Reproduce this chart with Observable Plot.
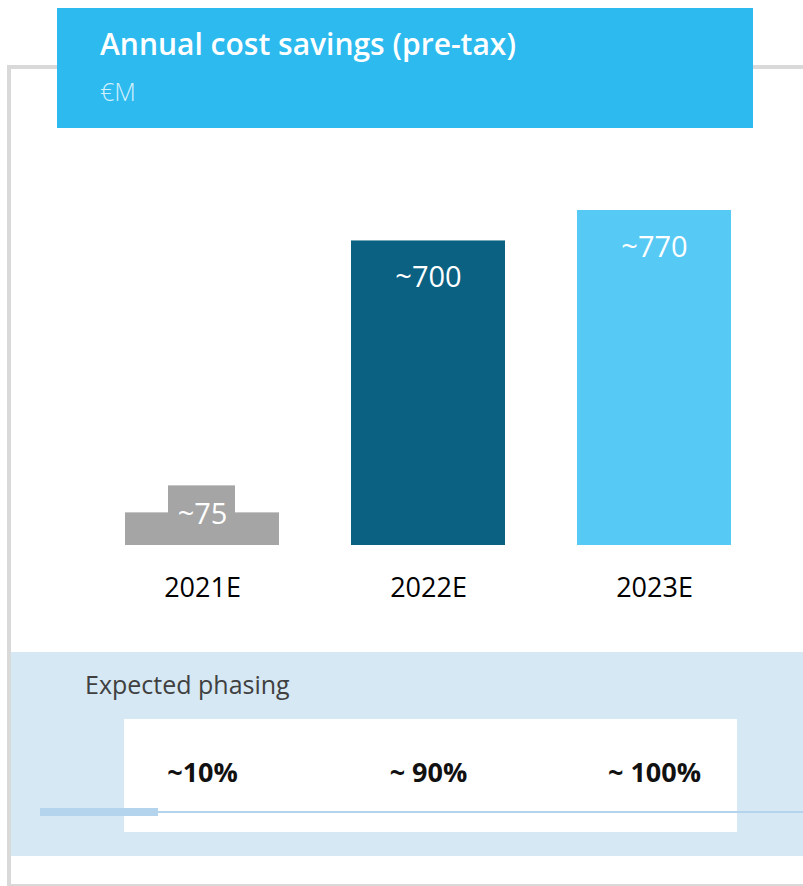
<!DOCTYPE html>
<html>
<head>
<meta charset="utf-8">
<script src="https://cdn.jsdelivr.net/npm/d3@7"></script>
<script src="https://cdn.jsdelivr.net/npm/@observablehq/plot@0.6"></script>
<style>
  html, body { margin: 0; padding: 0; background: #fff; }
  body { width: 803px; height: 886px; position: relative; overflow: hidden; font-family: "Open Sans", "Noto Sans", sans-serif; }
  .abs { position: absolute; }
  #frame { left: 7px; top: 65px; width: 820px; height: 815px; border: 4px solid #D9D9D9; box-sizing: content-box; }
  #band { left: 11px; top: 652px; width: 792px; height: 204px; background: #D6E8F4; }
  #whitebox { left: 124px; top: 719px; width: 613px; height: 113px; background: #fff; }
  #header { left: 57px; top: 8px; width: 696px; height: 120px; background: #2CBAEF; }
  #title { left: 100px; top: 29px; color: #fff; font-size: 30px; font-weight: 600; line-height: 1; white-space: nowrap; }
  #subtitle { left: 100px; top: 79px; color: #D2F0FC; font-size: 25px; font-weight: 300; line-height: 1; white-space: nowrap; }
  #phasingLabel { left: 85px; top: 672px; color: #404040; font-size: 25px; font-weight: 400; line-height: 1; white-space: nowrap; }
  #lineThin { left: 40px; top: 811px; width: 763px; height: 2px; background: #B4D4EE; }
  #lineThick { left: 40px; top: 808px; width: 118px; height: 8px; background: #B4D4EE; }
  #chart { left: 0; top: 130px; }
  #phasing { left: 0; top: 719px; }
</style>
</head>
<body>
<div id="frame" class="abs"></div>
<div id="band" class="abs"></div>
<div id="whitebox" class="abs"></div>
<div id="lineThin" class="abs"></div>
<div id="lineThick" class="abs"></div>
<div id="header" class="abs"></div>
<div id="title" class="abs">Annual cost savings (pre-tax)</div>
<div id="subtitle" class="abs">€M</div>
<div id="phasingLabel" class="abs">Expected phasing</div>
<div id="chart" class="abs"></div>
<div id="phasing" class="abs"></div>
<script>
// ---- data ----
const years = ["2021E", "2022E", "2023E"];
const savings = [75, 700, 770];
const valueLabels = ["~75", "~700", "~770"];
const phasing = ["~10%", "~ 90%", "~ 100%"];

const barColors = ["#A5A5A5", "#0B6182", "#56C9F4"];

const rows = years.map((y, i) => ({year: y, value: savings[i], label: valueLabels[i], phase: phasing[i]}));
const smallRows = rows.filter(d => d.value < 200);
const bigRows = rows.filter(d => d.value >= 200);

const xScale = {type: "band", domain: years, range: [51.4, 805], padding: 0.32, align: 0.5};
const fontFamily = "'Open Sans', 'Noto Sans', sans-serif";

const chart = Plot.plot({
  width: 803,
  height: 490,
  marginLeft: 0, marginRight: 0, marginTop: 0, marginBottom: 75,
  style: {fontFamily, background: "transparent", overflow: "visible"},
  x: {...xScale, label: null},
  y: {domain: [0, 770], range: [415, 80], axis: null},
  color: {domain: years, range: barColors},
  marks: [
    Plot.barY(rows, {x: "year", y: "value", fill: "year"}),
    // label box for the short bar
    Plot.barY(smallRows, {x: "year", y: "value", fill: "year", insetLeft: 43, insetRight: 44, insetTop: -27}),
    Plot.text(smallRows, {x: "year", y: "value", text: "label", fill: "#fff", fontSize: 29, lineAnchor: "bottom", dy: 11}),
    Plot.text(bigRows, {x: "year", y: "value", text: "label", fill: "#fff", fontSize: 29, lineAnchor: "bottom", dy: 46}),
    Plot.axisX({tickSize: 0, tickPadding: 32, fontSize: 27, fill: "#000", color: "#000", label: null})
  ]
});
document.getElementById("chart").appendChild(chart);

const phasePlot = Plot.plot({
  width: 803,
  height: 113,
  margin: 0,
  style: {fontFamily, background: "transparent", overflow: "visible"},
  x: {...xScale, axis: null},
  marks: [
    Plot.text(rows, {x: "year", text: "phase", frameAnchor: "top", lineAnchor: "bottom", dy: 62, fontSize: 27, fontWeight: 700, fill: "#111"})
  ]
});
document.getElementById("phasing").appendChild(phasePlot);
</script>
</body>
</html>
